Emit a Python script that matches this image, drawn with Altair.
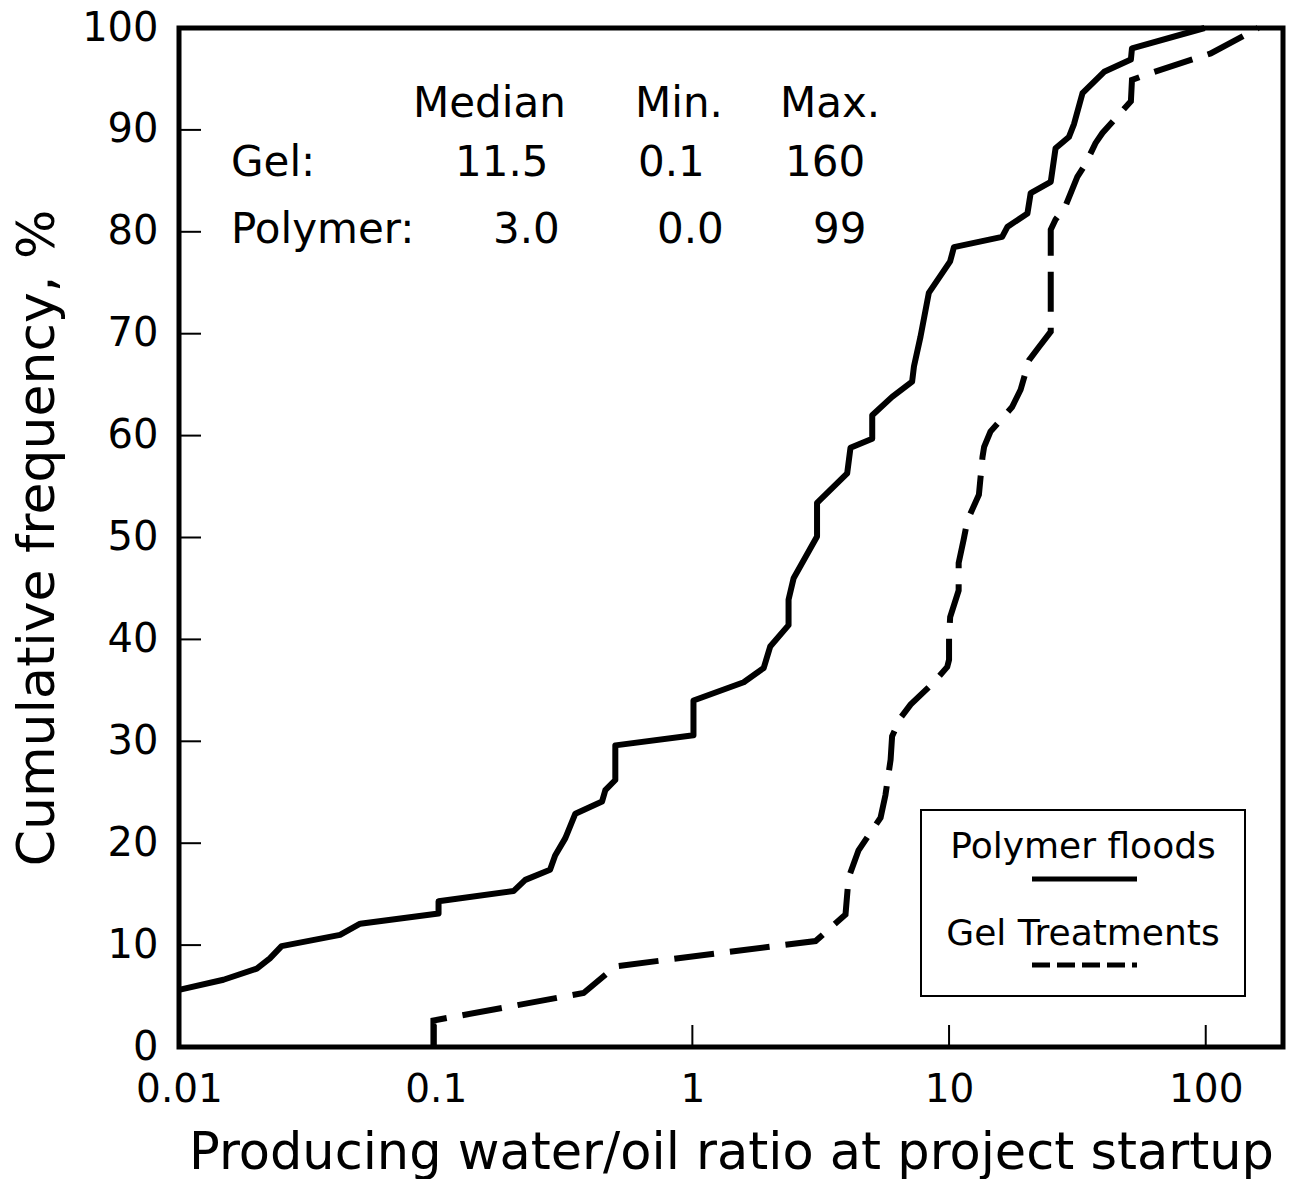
import altair as alt
import pandas as pd

# ---------------- data ----------------
poly_x = [0.01, 0.0149, 0.0201, 0.0226, 0.0251, 0.0424, 0.0508, 0.1026, 0.1026, 0.201,
          0.2234, 0.279, 0.292, 0.32, 0.35, 0.445, 0.458, 0.501, 0.501, 1.01,
          1.01, 1.585, 1.897, 2.01, 2.37, 2.37, 2.48, 3.06, 3.06, 4.01,
          4.13, 5.02, 5.02, 6.0, 7.18, 7.3, 7.74, 8.34, 10.1, 10.45,
          16.1, 16.9, 20.2, 20.8, 24.9, 26.0, 29.3, 30.7, 33.1, 40.2,
          51.1, 51.6, 99]
poly_y = [5.6, 6.6, 7.7, 8.7, 9.9, 11.0, 12.1, 13.1, 14.3, 15.3,
          16.4, 17.4, 18.8, 20.5, 22.9, 24.1, 25.2, 26.2, 29.6, 30.6,
          34.0, 35.8, 37.2, 39.3, 41.4, 43.9, 46.0, 50.1, 53.4, 56.3,
          58.8, 59.7, 62.0, 63.8, 65.3, 66.8, 69.7, 74.0, 77.1, 78.5,
          79.5, 80.5, 81.8, 83.8, 84.9, 88.2, 89.3, 90.6, 93.6, 95.7,
          96.9, 98.0, 100]

gel_x = [0.098, 0.098, 0.377, 0.501, 0.82, 3.02, 3.95, 4.06, 4.44, 5.41,
         5.65, 5.92, 6.0, 6.47, 7.08, 8.73, 9.84, 10.0, 10.0, 10.1,
         10.9, 10.9, 11.4, 11.8, 13.07, 13.5, 13.7, 14.5, 17.6, 19.0,
         20.5, 22.4, 24.9, 24.9, 24.9, 26.0, 28.4, 31.6, 34.1, 37.2,
         39.6, 51.1, 51.6, 63.0, 104.6, 160]
gel_y = [0.0, 2.6, 5.3, 7.9, 8.6, 10.4, 13.0, 16.6, 19.3, 22.5,
         24.7, 28.2, 30.5, 32.3, 33.6, 35.8, 37.3, 38.0, 40.1, 42.2,
         44.8, 47.5, 49.8, 51.7, 54.2, 57.9, 58.9, 60.4, 62.8, 64.5,
         67.4, 68.7, 70.2, 73.3, 80.2, 81.2, 82.5, 85.4, 86.7, 88.7,
         89.7, 92.8, 94.9, 95.7, 97.5, 100.0]

y_tick_values = [0, 10, 20, 30, 40, 50, 60, 70, 80, 90, 100]
y_inner_ticks = [10, 20, 30, 40, 50, 60, 70, 80, 90]
x_tick_values = [0.01, 0.1, 1, 10, 100]
x_inner_ticks = [0.1, 1, 10, 100]

stats_header = ["Median", "Min.", "Max."]
stats_rows = ["Gel:", "Polymer:"]
gel_stats = ["11.5", "0.1", "160"]
poly_stats = ["3.0", "0.0", "99"]
legend_labels = ["Polymer floods", "Gel Treatments"]

x_title = "Producing water/oil ratio at project startup"
y_title = "Cumulative frequency, %"

# ---------------- layout ----------------
W, H = 1104, 1019
FONT = "DejaVu Sans"

xscale = alt.Scale(type="log", domain=[0.01, 200], nice=False)
yscale = alt.Scale(domain=[0, 100], nice=False, zero=False)

x_axis = alt.Axis(values=x_tick_values, format="~g", labelFont=FONT, labelFontSize=39,
                  labelColor="black", labelPadding=23, tickSize=0, ticks=False, domain=False,
                  grid=False, labelFlush=False, labelOverlap=False,
                  title=x_title, titleFont=FONT, titleFontSize=51, titleFontWeight="normal",
                  titleColor="black", titleX=W / 2, titleY=121, titleAlign="center",
                  titleBaseline="alphabetic")
y_axis = alt.Axis(values=y_tick_values, labelFont=FONT, labelFontSize=40, labelColor="black",
                  labelPadding=21, tickSize=0, ticks=False, domain=False, grid=False,
                  labelFlush=False, labelOverlap=False,
                  title=y_title, titleFont=FONT, titleFontSize=52, titleFontWeight="normal",
                  titleColor="black", titleX=-126, titleY=H / 2, titleAngle=270,
                  titleAlign="center", titleBaseline="alphabetic")

poly_df = pd.DataFrame({"x": poly_x, "y": poly_y, "i": list(range(len(poly_x)))})
gel_df = pd.DataFrame({"x": gel_x, "y": gel_y, "i": list(range(len(gel_x)))})

poly_line = alt.Chart(poly_df).mark_line(color="black", strokeWidth=6, strokeJoin="round").encode(
    x=alt.X("x:Q", scale=xscale, axis=x_axis, title=x_title),
    y=alt.Y("y:Q", scale=yscale, axis=y_axis, title=y_title),
    order="i:Q",
)
gel_line = alt.Chart(gel_df).mark_line(color="black", strokeWidth=6, strokeDash=[40, 16]).encode(
    x=alt.X("x:Q", scale=xscale, axis=x_axis, title=x_title),
    y=alt.Y("y:Q", scale=yscale, axis=y_axis, title=y_title),
    order="i:Q",
)

yt = alt.Chart(pd.DataFrame({"y": y_inner_ticks})).mark_rule(
    color="black", strokeWidth=2).encode(
    y=alt.Y("y:Q", scale=yscale, axis=y_axis, title=y_title), x=alt.value(0), x2=alt.value(22))
xt = alt.Chart(pd.DataFrame({"x": x_inner_ticks})).mark_rule(color="black", strokeWidth=2).encode(
    x=alt.X("x:Q", scale=xscale, axis=x_axis, title=x_title), y=alt.value(H), y2=alt.value(H - 22))

one = alt.Data(values=[{}])


def txt(s, x, y, size=42, align="left"):
    return alt.Chart(one).mark_text(font=FONT, fontSize=size, color="black", align=align,
                                    baseline="alphabetic").encode(
        x=alt.value(x), y=alt.value(y), text=alt.value(s))


layers = [poly_line, gel_line, yt, xt]

# stats table
header_x = [234, 456, 601]
for s, xx in zip(stats_header, header_x):
    layers.append(txt(s, xx, 89))
row_y = [148, 215]
layers.append(txt(stats_rows[0], 52, row_y[0]))
layers.append(txt(stats_rows[1], 52, row_y[1]))
for s, xx in zip(gel_stats, [276, 459, 606]):
    layers.append(txt(s, xx, row_y[0]))
for s, xx in zip(poly_stats, [314, 478, 634]):
    layers.append(txt(s, xx, row_y[1]))

# legend box
box = alt.Chart(one).mark_rect(fill="white", stroke="black", strokeWidth=2).encode(
    x=alt.value(742), x2=alt.value(1066), y=alt.value(782), y2=alt.value(968))
layers.append(box)
layers.append(txt(legend_labels[0], 904, 830, size=36, align="center"))
layers.append(txt(legend_labels[1], 904, 917, size=36, align="center"))
layers.append(alt.Chart(one).mark_rule(color="black", strokeWidth=5).encode(
    x=alt.value(853), x2=alt.value(958), y=alt.value(851)))
layers.append(alt.Chart(one).mark_rule(color="black", strokeWidth=5, strokeDash=[18, 7]).encode(
    x=alt.value(853), x2=alt.value(958), y=alt.value(937)))

chart = alt.layer(*layers).properties(
    width=W, height=H,
    autosize=alt.AutoSizeParams(type="none"),
    padding={"left": 179, "top": 28, "right": 7, "bottom": 132},
    background="white",
).configure_view(stroke="black", strokeWidth=5)

chart.save("out.html", embed_options={"renderer": "svg", "actions": False})
